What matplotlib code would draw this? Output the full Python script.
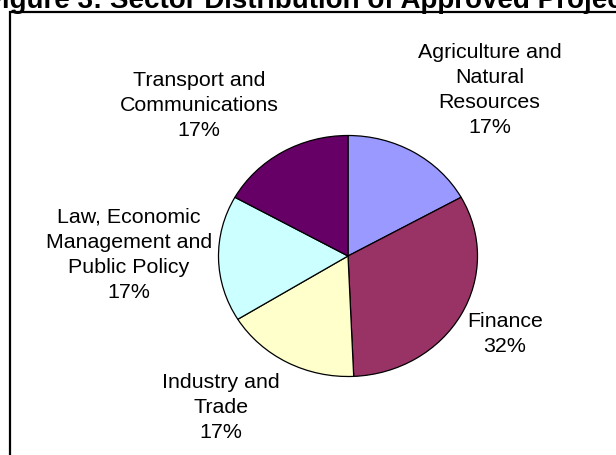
import matplotlib
matplotlib.use("Agg")
import matplotlib.pyplot as plt
from matplotlib.patches import Rectangle

plt.rcParams['font.family'] = ['Liberation Sans', 'DejaVu Sans']

# data (labels round to 17% / 32%)
sectors = ["Agriculture and\nNatural\nResources", "Finance", "Industry and\nTrade",
           "Law, Economic\nManagement and\nPublic Policy", "Transport and\nCommunications"]
shares = [16.9, 32.4, 16.9, 16.9, 16.9]
colors = ["#9999FF", "#993366", "#FFFFCC", "#CCFFFF", "#660066"]

# where each label sits, in units of the pie radius
label_pos = [(1.094, 1.383), (1.212, -0.643), (-0.981, -1.253), (-1.691, 0.017), (-1.151, 1.261)]

W, H = 616, 456
fig = plt.figure(figsize=(W / 100, H / 100), dpi=100)

# chart frame, runs off the right and bottom of the picture
fig.patches.append(Rectangle((9.5 / W, -0.1), 1.2, (H - 13) / H + 0.1, transform=fig.transFigure,
                             fill=False, edgecolor='black', linewidth=1.6))

cx, cy, rx, ry = 348, H - 257, 129.5, 120.5
ax = fig.add_axes([(cx - rx) / W, (cy - ry) / H, 2 * rx / W, 2 * ry / H])
ax.pie(shares, colors=colors, startangle=90, counterclock=False,
       wedgeprops=dict(edgecolor='black', linewidth=0.9))
ax.set_aspect('auto')
ax.set_xlim(-1, 1)
ax.set_ylim(-1, 1)

total = sum(shares)
for name, val, (lx, ly) in zip(sectors, shares, label_pos):
    ax.text(lx, ly, "%s\n%d%%" % (name, round(100 * val / total)), ha='center', va='center',
            fontsize=15.4, linespacing=1.4, clip_on=False)

fig.text(316 / W, 1 - 7.5 / H, "Figure 3: Sector Distribution of Approved Projects",
         ha='center', va='baseline', fontsize=20, fontweight='bold')

fig.savefig("out.png", dpi=100)
